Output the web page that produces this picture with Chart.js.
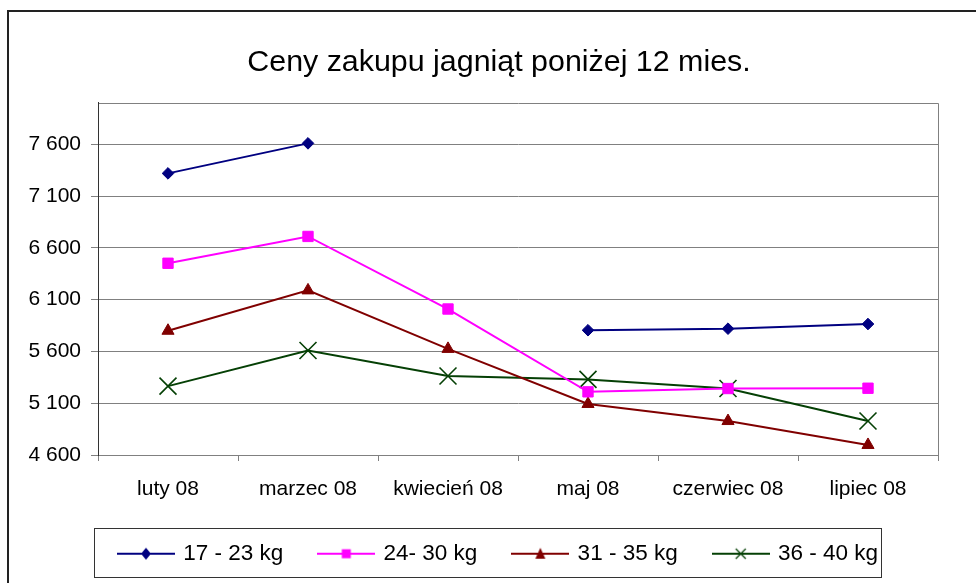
<!DOCTYPE html>
<html>
<head>
<meta charset="utf-8">
<script src="https://cdn.jsdelivr.net/npm/chart.js@4/dist/chart.umd.min.js"></script>
<style>
html,body{margin:0;padding:0;background:#fff;overflow:hidden;}
canvas{display:block;}
</style>
</head>
<body>
<canvas id="c" width="976" height="583"></canvas>
<script>
const categories = ['luty 08', 'marzec 08', 'kwiecień 08', 'maj 08', 'czerwiec 08', 'lipiec 08'];
const seriesNames = ['17 - 23 kg', '24- 30 kg', '31 - 35 kg', '36 - 40 kg'];
const s17_23 = [7320, 7610, null, 5805, 5820, 5865];
const s24_30 = [6452, 6711, 6010, 5210, 5242, 5245];
const s31_35 = [5800, 6190, 5625, 5093, 4928, 4697];
const s36_40 = [5265, 5609, 5363, 5330, 5242, 4928];
const yTicks = [4600, 5100, 5600, 6100, 6600, 7100, 7600];
const yMin = 4600, yMax = 8000;
const titleText = 'Ceny zakupu jagniąt poniżej 12 mies.';

const colors = ['#000080', '#FF00FF', '#800000', '#054005'];
const styles = ['rectRot', 'rect', 'triangle', 'crossRot'];
const radii = [5.8, 7.3, 7, 12];

const ICON_W = 58;
function legendIcon(color, style) {
  const cv = document.createElement('canvas');
  cv.width = ICON_W; cv.height = 20;
  const g = cv.getContext('2d');
  g.strokeStyle = color; g.fillStyle = color; g.lineWidth = 2;
  g.beginPath(); g.moveTo(0, 10); g.lineTo(ICON_W, 10); g.stroke();
  const cx = ICON_W / 2, cy = 10;
  g.beginPath();
  if (style === 'rectRot') {
    g.moveTo(cx, cy - 6); g.lineTo(cx + 5, cy); g.lineTo(cx, cy + 6); g.lineTo(cx - 5, cy); g.closePath(); g.fill();
  } else if (style === 'rect') {
    g.fillRect(cx - 4.5, cy - 4.5, 9, 9);
  } else if (style === 'triangle') {
    g.moveTo(cx, cy - 6); g.lineTo(cx + 5, cy + 5); g.lineTo(cx - 5, cy + 5); g.closePath(); g.fill();
  } else {
    g.lineWidth = 1.3;
    g.moveTo(cx - 5, cy - 5); g.lineTo(cx + 5, cy + 5);
    g.moveTo(cx + 5, cy - 5); g.lineTo(cx - 5, cy + 5); g.stroke();
  }
  return cv;
}

const allSeries = [s17_23, s24_30, s31_35, s36_40];
const datasets = allSeries.map((d, i) => ({
  label: seriesNames[i],
  data: d,
  borderColor: colors[i],
  backgroundColor: colors[i],
  borderWidth: 2,
  pointStyle: styles[i],
  pointRadius: radii[i],
  pointBorderWidth: i === 3 ? 1.6 : 1,
  pointBackgroundColor: colors[i],
  pointBorderColor: colors[i],
  spanGaps: false,
  tension: 0
}));
const icons = colors.map((c, i) => legendIcon(c, styles[i]));

const framePlugin = {
  id: 'frame',
  beforeDraw(chart) {
    const ctx = chart.ctx;
    ctx.save();
    ctx.fillStyle = '#fff';
    ctx.fillRect(0, 0, chart.width, chart.height);
    ctx.strokeStyle = '#222';
    ctx.lineWidth = 2;
    ctx.strokeRect(8, 11, 1200, 1200);
    ctx.restore();
  },
  afterDraw(chart) {
    const ctx = chart.ctx;
    const a = chart.chartArea;
    ctx.save();
    ctx.strokeStyle = '#808080';
    ctx.lineWidth = 1;
    ctx.beginPath();
    ctx.moveTo(Math.round(a.left) + 0.5, Math.round(a.top) + 0.5);
    ctx.lineTo(Math.round(a.right) + 0.5, Math.round(a.top) + 0.5);
    ctx.lineTo(Math.round(a.right) + 0.5, Math.round(a.bottom) + 0.5);
    ctx.stroke();
    ctx.strokeStyle = '#333';
    ctx.beginPath();
    ctx.moveTo(Math.round(a.left) + 0.5, Math.round(a.top));
    ctx.lineTo(Math.round(a.left) + 0.5, Math.round(a.bottom) + 1);
    ctx.stroke();
    const lg = chart.legend;
    if (lg && lg.legendHitBoxes && lg.legendHitBoxes.length) {
      const hb = lg.legendHitBoxes;
      const l = Math.min(...hb.map(h => h.left));
      const r = Math.max(...hb.map(h => h.left + h.width));
      const t = hb[0].top;
      ctx.strokeStyle = '#333';
      ctx.lineWidth = 1;
      const bl = Math.round(l - 26), br = Math.round(r + 3);
      ctx.strokeRect(bl + 0.5, Math.round(t - 15) + 0.5, br - bl, 49);
    }
    ctx.restore();
  }
};

new Chart(document.getElementById('c'), {
  type: 'line',
  data: { labels: categories, datasets },
  plugins: [framePlugin],
  options: {
    responsive: false,
    animation: false,
    layout: { padding: { left: 60, right: 38, top: 0, bottom: 8 } },
    plugins: {
      title: {
        display: true,
        text: titleText,
        color: '#000',
        font: { family: 'Liberation Sans', size: 30.4, weight: 'normal', lineHeight: 1.2 },
        padding: { top: 44, bottom: 22.5 }
      },
      legend: {
        position: 'bottom',
        labels: {
          usePointStyle: true,
          pointStyleWidth: 52,
          padding: 37,
          color: '#000',
          font: { family: 'Liberation Sans', size: 22.5 },
          generateLabels(chart) {
            return chart.data.datasets.map((ds, i) => ({
              text: ds.label,
              pointStyle: icons[i],
              fillStyle: ds.borderColor,
              strokeStyle: ds.borderColor,
              lineWidth: 0,
              hidden: false,
              datasetIndex: i,
              fontColor: '#000'
            }));
          }
        }
      },
      tooltip: { enabled: false }
    },
    scales: {
      x: {
        offset: true,
        grid: { offset: true, drawOnChartArea: false, drawTicks: true, tickLength: 6, color: '#808080' },
        border: { color: '#808080' },
        ticks: { color: '#000', padding: 16, font: { family: 'Liberation Sans', size: 21 }, maxRotation: 0 },
        afterFit(s) { s.height = 50.5; s._computeLabelArea = () => undefined; }
      },
      y: {
        min: yMin,
        max: yMax,
        ticks: {
          color: '#000',
          padding: 10,
          font: { family: 'Liberation Sans', size: 21 },
          callback: v => String(v).replace(/\B(?=(\d{3})+(?!\d))/g, ' ')
        },
        afterBuildTicks(s) { s.ticks = yTicks.map(v => ({ value: v })); },
        grid: { color: '#808080', tickLength: 7, drawTicks: true },
        border: { color: '#333' },
        afterFit(s) { s.width = 38; s._computeLabelArea = () => undefined; }
      }
    }
  }
});
</script>
</body>
</html>
